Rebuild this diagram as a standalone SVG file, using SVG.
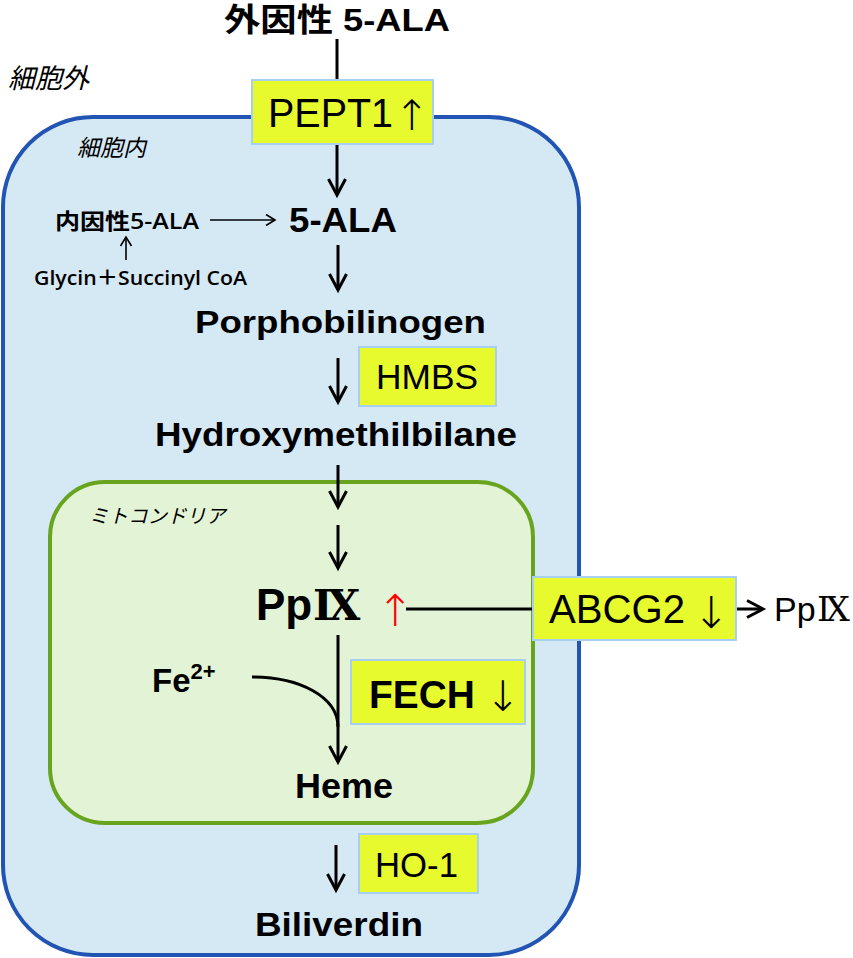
<svg xmlns="http://www.w3.org/2000/svg" width="853" height="958" viewBox="0 0 853 958">
<style>
.cap{font-family:"Liberation Sans","Noto Sans CJK JP",sans-serif;fill:#000}
.b{font-weight:bold}
.jp{font-family:"Noto Sans CJK JP",sans-serif;font-style:italic;fill:#000}
.mj{font-family:"Open Sans","Noto Sans CJK JP",sans-serif;font-weight:600;fill:#000}
.arr{font-family:"DejaVu Sans","Noto Sans CJK JP",sans-serif;font-weight:200}
.rn{font-family:"DejaVu Serif","Liberation Serif","Noto Sans CJK JP",serif}
.box{fill:#e7fa2e;stroke:#a8cff0;stroke-width:2}
.ln{fill:none;stroke:#000;stroke-width:3}
.thin{fill:none;stroke:#000;stroke-width:1.6}
</style>
<defs>
<marker id="ah" markerUnits="userSpaceOnUse" markerWidth="30" markerHeight="30" viewBox="-22 -15 30 30" refX="0" refY="0" orient="auto">
<path d="M-16,-8.5 L0,0 L-16,8.5" fill="none" stroke="#000" stroke-width="3"/>
</marker>
<marker id="ahs" markerUnits="userSpaceOnUse" markerWidth="20" markerHeight="20" viewBox="-14 -10 20 20" refX="0" refY="0" orient="auto">
<path d="M-9,-5.5 L0,0 L-9,5.5" fill="none" stroke="#000" stroke-width="1.6"/>
</marker>
</defs>
<rect width="853" height="958" fill="#fff"/>

<g id="cell">
<rect x="3" y="117" width="576" height="838" rx="90" ry="90" fill="#d5e9f5" stroke="#2154b3" stroke-width="4"/>
<text class="jp" x="77" y="156" font-size="23">細胞内</text>
</g>
<g id="extracellular">
<text class="jp" x="8" y="88" font-size="27">細胞外</text>
</g>
<g id="mitochondria">
<rect x="50" y="482" width="483" height="341" rx="55" ry="55" fill="#e3f4d6" stroke="#69a41f" stroke-width="4"/>
<text class="jp" x="89" y="523" font-size="19.5">ミトコンドリア</text>
</g>

<g id="connectors">
<line class="ln" x1="337" y1="39" x2="337" y2="80"/>
<line class="ln" x1="337" y1="144" x2="337" y2="195" marker-end="url(#ah)"/>
<line class="ln" x1="338" y1="245" x2="338" y2="290" marker-end="url(#ah)"/>
<line class="ln" x1="338" y1="358" x2="338" y2="402" marker-end="url(#ah)"/>
<line class="ln" x1="338" y1="465" x2="338" y2="507" marker-end="url(#ah)"/>
<line class="ln" x1="338" y1="525" x2="338" y2="568" marker-end="url(#ah)"/>
<line class="ln" x1="338" y1="635" x2="338" y2="762" marker-end="url(#ah)"/>
<path class="ln" d="M252,677 C300,677 338,697 338,727"/>
<line class="ln" x1="406" y1="609" x2="533" y2="609"/>
<line class="ln" x1="737" y1="609" x2="763" y2="609" marker-end="url(#ah)"/>
<line class="ln" x1="336" y1="845" x2="336" y2="890" marker-end="url(#ah)"/>
<line class="thin" x1="210" y1="220" x2="275" y2="220" marker-end="url(#ahs)"/>
<line class="thin" x1="126" y1="260" x2="126" y2="237" marker-end="url(#ahs)"/>
</g>

<g id="title">
<text class="cap b" x="224" y="31" font-size="32" textLength="226" lengthAdjust="spacingAndGlyphs">外因性 5-ALA</text>
</g>
<g id="pept1">
<rect class="box" x="252" y="80" width="181" height="64"/>
<text class="cap" x="268" y="127" font-size="40"><tspan textLength="125" lengthAdjust="spacingAndGlyphs">PEPT1</tspan><tspan class="arr" x="394" y="130" font-size="42">↑</tspan></text>
</g>
<g id="endo-ala">
<text class="mj" x="55" y="229" font-size="22" textLength="144" lengthAdjust="spacingAndGlyphs">内因性5-ALA</text>
</g>
<g id="glycin">
<text class="mj" x="34" y="285" font-size="20" textLength="213" lengthAdjust="spacingAndGlyphs">Glycin＋Succinyl CoA</text>
</g>
<g id="ala">
<text class="cap b" x="289" y="232" font-size="35" textLength="108" lengthAdjust="spacingAndGlyphs">5-ALA</text>
</g>
<g id="porphobilinogen">
<text class="cap b" x="195" y="333" font-size="32" textLength="291" lengthAdjust="spacingAndGlyphs">Porphobilinogen</text>
</g>
<g id="hmbs">
<rect class="box" x="359" y="347" width="137" height="59"/>
<text class="cap" x="376" y="389" font-size="35" textLength="102" lengthAdjust="spacingAndGlyphs">HMBS</text>
</g>
<g id="hydroxymethilbilane">
<text class="cap b" x="155" y="446" font-size="33" textLength="362" lengthAdjust="spacingAndGlyphs">Hydroxymethilbilane</text>
</g>
<g id="ppix">
<text class="cap b" x="256" y="620" font-size="44">Pp<tspan class="rn" x="313" font-size="42">Ⅸ</tspan><tspan class="arr" x="377" y="626" font-size="44" fill="#ff0000">↑</tspan></text>
</g>
<g id="abcg2">
<rect class="box" x="533" y="577" width="203" height="63"/>
<text class="cap" x="549" y="623" font-size="40"><tspan textLength="136" lengthAdjust="spacingAndGlyphs">ABCG2</tspan><tspan class="arr" x="693" y="628" font-size="44">↓</tspan></text>
</g>
<g id="ppix-out">
<text class="cap" x="774" y="621" font-size="34">Pp<tspan class="rn" x="817" font-size="34">Ⅸ</tspan></text>
</g>
<g id="fe">
<text class="cap b" x="152" y="692" font-size="33">Fe<tspan font-size="22" dy="-13">2+</tspan></text>
</g>
<g id="fech">
<rect class="box" x="351" y="660" width="174" height="64"/>
<text class="cap b" x="369" y="708" font-size="39"><tspan textLength="106" lengthAdjust="spacingAndGlyphs">FECH</tspan><tspan class="arr" x="485" y="711" font-size="42">↓</tspan></text>
</g>
<g id="heme">
<text class="cap b" x="295" y="798" font-size="35" textLength="98" lengthAdjust="spacingAndGlyphs">Heme</text>
</g>
<g id="ho1">
<rect class="box" x="359" y="834" width="119" height="59"/>
<text class="cap" x="375" y="877" font-size="35" textLength="83" lengthAdjust="spacingAndGlyphs">HO-1</text>
</g>
<g id="biliverdin">
<text class="cap b" x="255" y="936" font-size="33" textLength="168" lengthAdjust="spacingAndGlyphs">Biliverdin</text>
</g>
</svg>
